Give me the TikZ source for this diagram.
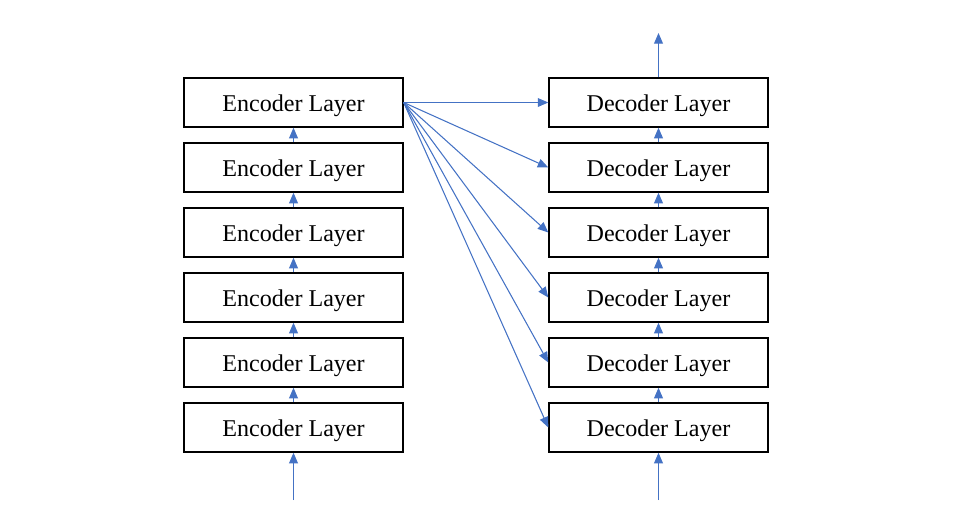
\documentclass[tikz,border=0pt]{standalone}
\usepackage{fontspec}
\setmainfont{Liberation Serif}
\usepackage{xcolor}
\usetikzlibrary{arrows.meta,positioning}
\definecolor{linkblue}{HTML}{4472C4}
\tikzset{%
	layer/.style = {draw, line width=0.8pt, rectangle, minimum width=4.38cm, minimum height=0.98cm, inner sep=0pt, text height=0.34cm, text depth=0pt, text centered, font=\fontsize{13.7pt}{16pt}\selectfont},
	link/.style  = {draw=linkblue, line width=0.6pt, -{Triangle[length=6pt,width=5pt]}},
}
\begin{document}
\begin{tikzpicture}
	\useasboundingbox (0,0) rectangle (19.26,-10.36);
	% encoder and decoder stacks, 1 is the top one
	\foreach \i in {1,...,6}{
		\node[layer] (enc\i) at (5.87,{-2.05-1.3*(\i-1)}) {Encoder Layer};
		\node[layer] (dec\i) at (13.17,{-2.05-1.3*(\i-1)}) {Decoder Layer};
	}
	% inputs and output
	\coordinate (encin) at (5.87,-10.0);
	\coordinate (decin) at (13.17,-10.0);
	\coordinate (decout) at (13.17,-0.66);
	\draw[link] (encin) -- (enc6.south);
	\draw[link] (decin) -- (dec6.south);
	\draw[link] (dec1.north) -- (decout);
	% stack arrows
	\foreach \i/\j in {1/2,2/3,3/4,4/5,5/6}{
		\draw[link] (enc\j.north) -- (enc\i.south);
		\draw[link] (dec\j.north) -- (dec\i.south);
	}
	% top encoder feeds every decoder
	\foreach \i in {1,...,6}
		\draw[link] (enc1.east) -- (dec\i.west);
\end{tikzpicture}
\end{document}
